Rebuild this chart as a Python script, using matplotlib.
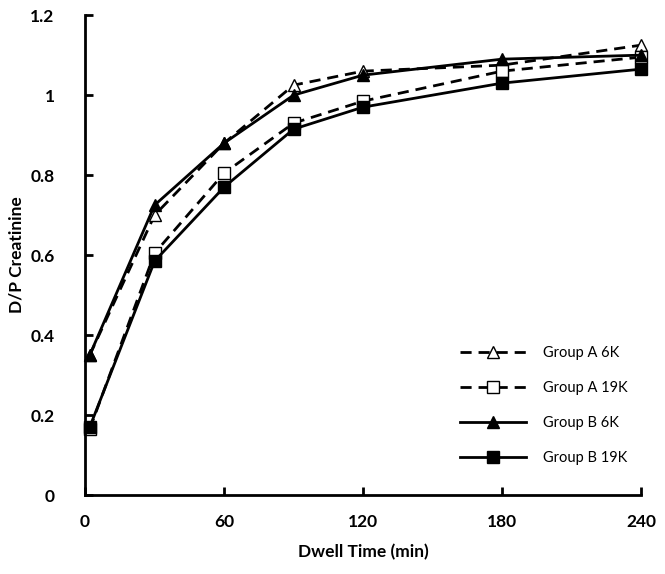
import matplotlib.pyplot as plt

time = [2, 30, 60, 90, 120, 180, 240]
a_6k = [0.35, 0.70, 0.88, 1.025, 1.06, 1.075, 1.125]
a_19k = [0.165, 0.605, 0.805, 0.93, 0.985, 1.06, 1.095]
b_6k = [0.35, 0.725, 0.88, 1.0, 1.05, 1.09, 1.10]
b_19k = [0.17, 0.585, 0.77, 0.915, 0.97, 1.03, 1.065]

plt.rcParams['font.family'] = ['Lato', 'DejaVu Sans']
fig = plt.figure(figsize=(6.65, 5.74), dpi=100)
ax = fig.add_axes([0.128, 0.1376, 0.836, 0.836])

ax.plot(time, a_6k, 'k--', marker='^', mfc='white', ms=9, lw=2, dashes=(4, 2.5), label='Group A 6K', clip_on=False)
ax.plot(time, a_19k, 'k--', marker='s', mfc='white', ms=8, lw=2, dashes=(4, 2.5), label='Group A 19K', clip_on=False)
ax.plot(time, b_6k, 'k-', marker='^', ms=9, lw=2, label='Group B 6K', clip_on=False)
ax.plot(time, b_19k, 'k-', marker='s', ms=8, lw=2, label='Group B 19K', clip_on=False)

ax.set_xlim(0, 240)
ax.set_ylim(0, 1.2)
ax.set_xticks([0, 60, 120, 180, 240])
ax.set_yticks([0, 0.2, 0.4, 0.6, 0.8, 1.0, 1.2])
ax.set_yticklabels(['0', '0.2', '0.4', '0.6', '0.8', '1', '1.2'])
ax.tick_params(direction='in', width=2, length=6, labelsize=12.5)
ax.tick_params(axis='x', pad=14)
ax.tick_params(axis='y', pad=22)
for lab in ax.get_xticklabels() + ax.get_yticklabels():
    lab.set_fontweight('bold')
for s in ['top', 'right']:
    ax.spines[s].set_visible(False)
for s in ['left', 'bottom']:
    ax.spines[s].set_linewidth(2)

ax.set_xlabel('Dwell Time (min)', fontsize=12.5, fontweight='bold', labelpad=10)
ax.set_ylabel('D/P Creatinine', fontsize=12.5, fontweight='bold', labelpad=4)

ax.legend(loc='lower right', bbox_to_anchor=(1.0, 0.035), frameon=False, fontsize=10.5,
          handlelength=4.5, labelspacing=1.45, handletextpad=1.2)

fig.savefig('out.png')
